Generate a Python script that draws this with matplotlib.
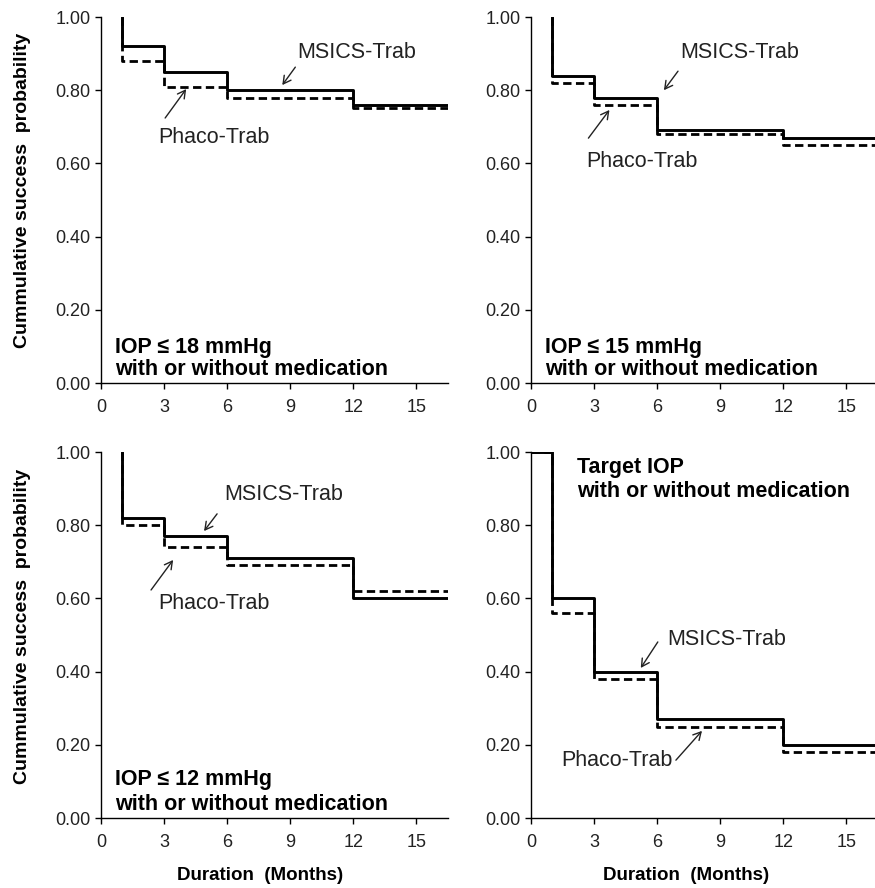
import matplotlib
matplotlib.use("Agg")
import matplotlib.pyplot as plt

plt.rcParams['font.family'] = ['Liberation Sans', 'DejaVu Sans']

# ---- data ----
months_ticks = [0, 3, 6, 9, 12, 15]
prob_ticks = [0.0, 0.2, 0.4, 0.6, 0.8, 1.0]

# IOP <= 18
t18 = [1, 1, 3, 6, 12]
msics18 = [1.00, 0.92, 0.85, 0.80, 0.76]
phaco18 = [1.00, 0.88, 0.81, 0.78, 0.75]
# IOP <= 15
t15 = [1, 1, 3, 6, 12]
msics15 = [1.00, 0.84, 0.78, 0.69, 0.67]
phaco15 = [1.00, 0.82, 0.76, 0.68, 0.65]
# IOP <= 12
t12 = [1, 1, 3, 6, 12]
msics12 = [1.00, 0.82, 0.77, 0.71, 0.60]
phaco12 = [1.00, 0.80, 0.74, 0.69, 0.62]
# Target IOP
tT = [0, 1, 3, 6, 12]
msicsT = [1.00, 0.60, 0.40, 0.27, 0.20]
phacoT = [1.00, 0.56, 0.38, 0.25, 0.18]

titles = [["IOP \u2264 18 mmHg", "with or without medication"],
          ["IOP \u2264 15 mmHg", "with or without medication"],
          ["IOP \u2264 12 mmHg", "with or without medication"],
          ["Target IOP", "with or without medication"]]

X_MAX = 16.5

W, H = 875, 888
fig = plt.figure(figsize=(W / 100, H / 100), dpi=100)

def ax_at(left, top, right, bottom):
    return fig.add_axes([left / W, 1 - bottom / H, (right - left) / W, (bottom - top) / H])

axes = [ax_at(101, 17, 448, 383), ax_at(531, 17, 878, 383),
        ax_at(101, 452, 448, 818), ax_at(531, 452, 878, 818)]

series = [(t18, msics18, phaco18), (t15, msics15, phaco15),
          (t12, msics12, phaco12), (tT, msicsT, phacoT)]

# annotation placements: (text xy, arrow start, arrow end) in data coords
ann = [
    dict(ms=((12.17, 0.902), (9.24, 0.863), (8.62, 0.814)),
         ph=((5.36, 0.672), (3.05, 0.724), (4.05, 0.803))),
    dict(ms=((9.93, 0.902), (6.99, 0.852), (6.32, 0.800)),
         ph=((5.26, 0.604), (2.73, 0.669), (3.73, 0.746))),
    dict(ms=((8.69, 0.883), (5.52, 0.831), (4.90, 0.784)),
         ph=((5.36, 0.585), (2.38, 0.623), (3.43, 0.705))),
    dict(ms=((9.31, 0.489), (6.03, 0.481), (5.22, 0.410)),
         ph=((4.09, 0.158), (6.89, 0.158), (8.13, 0.238))),
]

title_pos = [((0.67, 0.098), (0.67, 0.036)),
             ((0.67, 0.098), (0.67, 0.036)),
             ((0.67, 0.104), (0.67, 0.036)),
             ((2.2, 0.959), (2.2, 0.891))]

for i, ax in enumerate(axes):
    t, ms, ph = series[i]
    tx = list(t) + [X_MAX + 1]
    ax.step(tx, list(ph) + [ph[-1]], where='post', color='black', lw=2.0,
            linestyle=(0, (3, 1.6)), zorder=2)
    ax.step(tx, list(ms) + [ms[-1]], where='post', color='black', lw=2.1, zorder=3)

    ax.set_xlim(0, X_MAX)
    ax.set_ylim(0, 1.0)
    ax.set_xticks(months_ticks)
    ax.set_yticks(prob_ticks)
    ax.set_yticklabels([f"{v:.2f}" for v in prob_ticks])
    for s in ['top', 'right']:
        ax.spines[s].set_visible(False)
    for s in ['left', 'bottom']:
        ax.spines[s].set_linewidth(1.0)
    ax.tick_params(axis='both', direction='out', length=4.3, width=1.0,
                   labelsize=13, colors='black', labelcolor='#222222')
    ax.tick_params(axis='x', pad=7.5)
    ax.tick_params(axis='y', pad=3)

    a = ann[i]
    for key, label in (('ms', 'MSICS-Trab'), ('ph', 'Phaco-Trab')):
        txy, p0, p1 = a[key]
        ax.text(txy[0], txy[1], label, ha='center', va='center', fontsize=15.5,
                color='#222222')
        ax.annotate('', xy=p1, xytext=p0,
                    arrowprops=dict(arrowstyle='->,head_length=0.55,head_width=0.3',
                                    lw=1.0, color='#222222', shrinkA=0, shrinkB=0))

    (p1, p2) = title_pos[i]
    ax.text(p1[0], p1[1], titles[i][0], ha='left', va='center', fontsize=15.5,
            fontweight='bold', color='black')
    ax.text(p2[0], p2[1], titles[i][1], ha='left', va='center', fontsize=15.5,
            fontweight='bold', color='black')

# axis labels
for yc in (190, 626):
    fig.text(23 / W, 1 - yc / H, "Cummulative success  probability", rotation=90,
             ha='center', va='center', fontsize=14, fontweight='bold', color='black')
for xc in (260, 686):
    fig.text(xc / W, 1 - 875 / H, "Duration  (Months)", ha='center', va='center',
             fontsize=13.5, fontweight='bold', color='black')

fig.savefig("out.png", dpi=100)
